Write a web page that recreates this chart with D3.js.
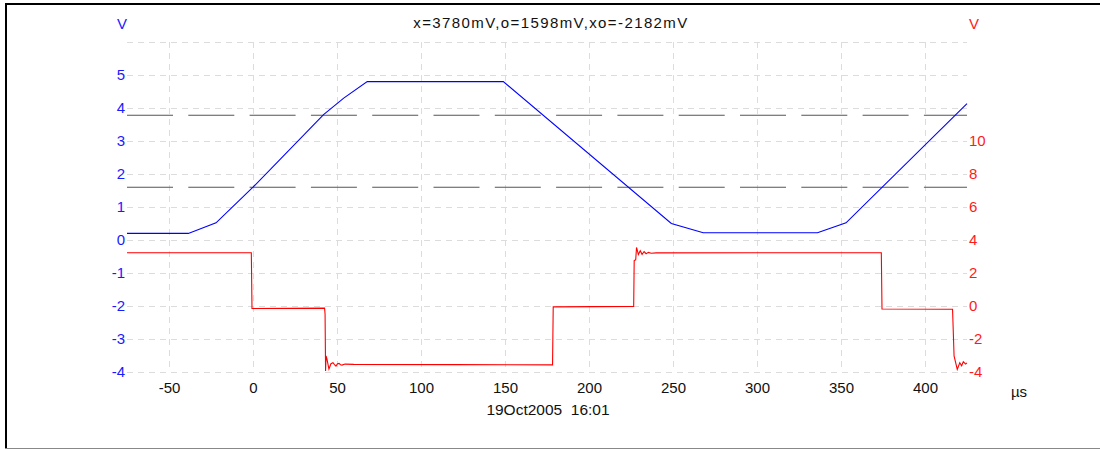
<!DOCTYPE html>
<html>
<head>
<meta charset="utf-8">
<script src="https://cdn.jsdelivr.net/npm/d3@7"></script>
<style>
  html, body { margin: 0; padding: 0; background: #fff; }
  svg { display: block; }
  text { font-family: "Liberation Sans", Arial, sans-serif; }
</style>
</head>
<body>
<svg id="chart" width="1100" height="449"></svg>
<script>
// ---------- data ----------
const titleText = "x=3780mV,o=1598mV,xo=-2182mV";
const dateText = "19Oct2005  16:01";
const xUnit = "µs";
const leftUnit = "V";
const rightUnit = "V";

const xTicks = [-50, 0, 50, 100, 150, 200, 250, 300, 350, 400];
const leftTicks = [-4, -3, -2, -1, 0, 1, 2, 3, 4, 5];
const leftGrid = [-4, -3, -2, -1, 0, 1, 2, 3, 4, 5, 6];
const rightTicks = [-4, -2, 0, 2, 4, 6, 8, 10];
const cursorLevels = [3.78, 1.598];   // V, left axis

// blue trace (left axis, V): [time µs, volts]
const blueTime = [-75, -38.5, -22, 0, 42, 54, 68, 149, 249, 268, 336, 353, 425];
const blueVolt = [0.2, 0.2, 0.52, 1.6, 3.8, 4.3, 4.8, 4.8, 0.5, 0.22, 0.22, 0.52, 4.13];

// red trace (right axis, V): [time µs, volts]
const redTime = [-75, -1.0, -0.6, 42.6, 42.9, 43.2, 43.5, 44.0, 45.2, 46.4, 47.6, 48.5, 49.4, 50.3, 51.2, 52.1, 53.0, 54.8, 60, 120, 178.3,
                 178.7, 226.6, 226.9, 227.8, 228.3, 229.4, 230.5, 231.6, 232.8, 234.0, 235.4, 237, 240, 300, 374.0,
                 374.4, 416.4, 417.3, 419.2, 420.7, 421.8, 422.8, 424.2, 425];
const redVolt = [3.23, 3.23, -0.15, -0.13, -0.5, -3.94, -3.03, -3.2, -3.82, -3.5, -3.44, -3.55, -3.64, -3.5, -3.48, -3.56, -3.58, -3.52, -3.54, -3.55, -3.57,
                 -0.05, -0.02, 2.75, 2.8, 3.55, 3.12, 3.35, 3.13, 3.3, 3.17, 3.25, 3.2, 3.22, 3.23, 3.23,
                 -0.18, -0.2, -3.03, -3.84, -3.44, -3.62, -3.38, -3.52, -3.45];

// ---------- drawing ----------
const svg = d3.select("#chart");

// outer frame
svg.append("line").attr("x1", 6).attr("y1", 4).attr("x2", 1100).attr("y2", 4)
  .attr("stroke", "#000").attr("stroke-width", 2);
svg.append("line").attr("x1", 6).attr("y1", 3).attr("x2", 6).attr("y2", 449)
  .attr("stroke", "#000").attr("stroke-width", 2);
svg.append("line").attr("x1", 5).attr("y1", 448.5).attr("x2", 1100).attr("y2", 448.5)
  .attr("stroke", "#888").attr("stroke-width", 1);

const x = d3.scaleLinear().domain([-75, 425]).range([127, 967]);
const yL = d3.scaleLinear().domain([-4, 6]).range([372, 42]);
const yR = d3.scaleLinear().domain([-4, 16]).range([372, 42]);

const gridColor = "#dcdcdc";
const grid = svg.append("g");
grid.selectAll("line.h").data(leftGrid).join("line")
  .attr("class", "h")
  .attr("x1", x(-75)).attr("x2", x(425))
  .attr("y1", d => Math.round(yL(d)) + 0.5).attr("y2", d => Math.round(yL(d)) + 0.5)
  .attr("stroke", gridColor).attr("stroke-dasharray", "6,5");
grid.selectAll("line.v").data(xTicks).join("line")
  .attr("class", "v")
  .attr("x1", d => Math.round(x(d)) + 0.5).attr("x2", d => Math.round(x(d)) + 0.5)
  .attr("y1", yL(6)).attr("y2", yL(-4))
  .attr("stroke", gridColor).attr("stroke-dasharray", "6,5");

// cursor lines
svg.selectAll("line.cur").data(cursorLevels).join("line")
  .attr("class", "cur")
  .attr("x1", x(-75)).attr("x2", x(425))
  .attr("y1", d => yL(d)).attr("y2", d => yL(d))
  .attr("stroke", "#555").attr("stroke-width", 1.2).attr("stroke-dasharray", "46,15.3");

// axes
const fontSize = "15px";
const plainFmt = d => String(d);
const axL = svg.append("g").attr("transform", `translate(${x(-75)},0)`)
  .call(d3.axisLeft(yL).tickValues(leftTicks).tickFormat(plainFmt).tickSize(0).tickPadding(2));
axL.select(".domain").remove();
axL.selectAll("text").attr("fill", "#1a1aff").style("font-size", fontSize).style("font-family", "Liberation Sans, Arial, sans-serif");

const axR = svg.append("g").attr("transform", `translate(${x(425)},0)`)
  .call(d3.axisRight(yR).tickValues(rightTicks).tickFormat(plainFmt).tickSize(0).tickPadding(2));
axR.select(".domain").remove();
axR.selectAll("text").attr("fill", "#ff1a1a").style("font-size", fontSize).style("font-family", "Liberation Sans, Arial, sans-serif");

const axB = svg.append("g").attr("transform", `translate(0,${yL(-4) + 8})`)
  .call(d3.axisBottom(x).tickValues(xTicks).tickFormat(plainFmt).tickSize(0).tickPadding(2));
axB.select(".domain").remove();
axB.selectAll("text").attr("fill", "#111").style("font-size", fontSize).style("font-family", "Liberation Sans, Arial, sans-serif");

// traces
const blueData = blueTime.map((t, i) => [t, blueVolt[i]]);
const redData = redTime.map((t, i) => [t, redVolt[i]]);

svg.append("path").datum(redData)
  .attr("fill", "none").attr("stroke", "#ff0000").attr("stroke-width", 1.1)
  .attr("d", d3.line().x(d => x(d[0])).y(d => yR(d[1])));

svg.append("path").datum(blueData)
  .attr("fill", "none").attr("stroke", "#0000ff").attr("stroke-width", 1.1)
  .attr("d", d3.line().x(d => x(d[0])).y(d => yL(d[1])));

// labels
svg.append("text").attr("x", 122).attr("y", 29).attr("text-anchor", "middle")
  .attr("fill", "#1a1aff").style("font-size", fontSize).text(leftUnit);
svg.append("text").attr("x", 974).attr("y", 29).attr("text-anchor", "middle")
  .attr("fill", "#ff1a1a").style("font-size", fontSize).text(rightUnit);
svg.append("text").attr("x", 551).attr("y", 28).attr("text-anchor", "middle")
  .attr("fill", "#111").style("font-size", "15px").style("letter-spacing", "1.4px").text(titleText);
svg.append("text").attr("x", 1019).attr("y", 397).attr("text-anchor", "middle")
  .attr("fill", "#111").style("font-size", fontSize).text(xUnit);
svg.append("text").attr("x", 548).attr("y", 415).attr("text-anchor", "middle")
  .attr("fill", "#111").style("font-size", "15.5px").style("white-space", "pre").text(dateText);
</script>
</body>
</html>
